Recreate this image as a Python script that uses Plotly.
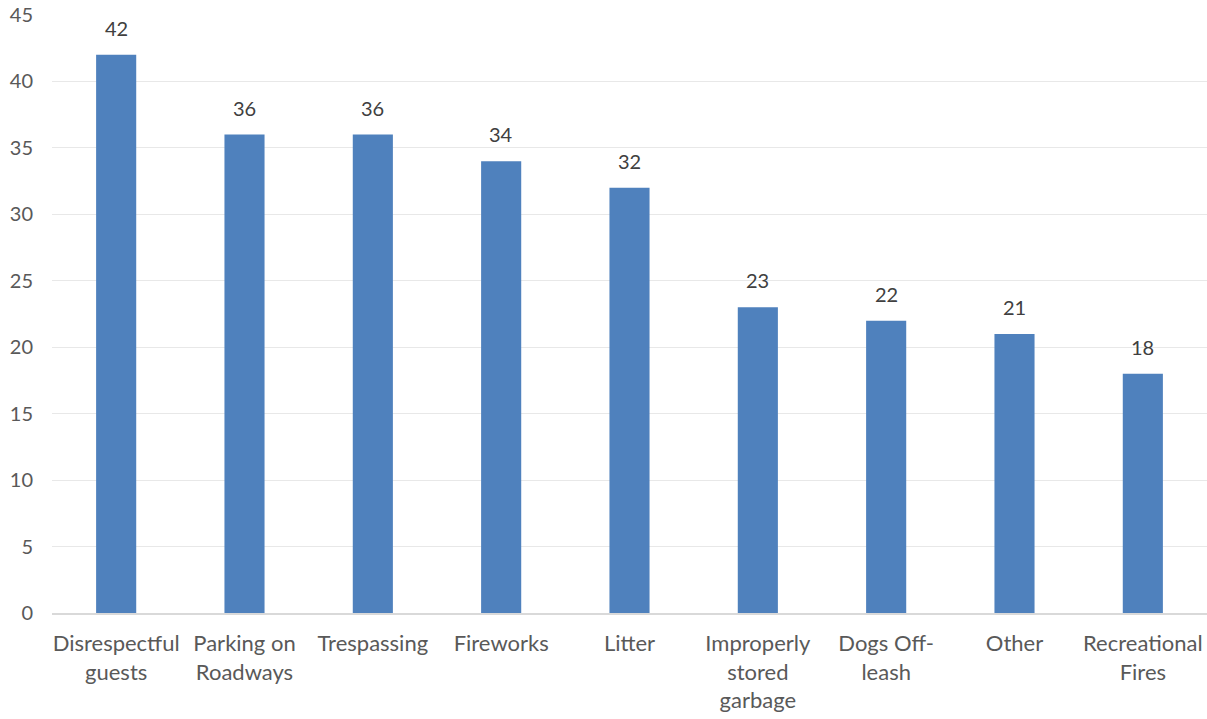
import plotly.graph_objects as go

categories = [
    "Disrespectful<br>guests",
    "Parking on<br>Roadways",
    "Trespassing",
    "Fireworks",
    "Litter",
    "Improperly<br>stored<br>garbage",
    "Dogs Off-<br>leash",
    "Other",
    "Recreational<br>Fires",
]
counts = [42, 36, 36, 34, 32, 23, 22, 21, 18]

text_color = "#595959"
font_family = "Lato, 'Liberation Sans', sans-serif"

fig = go.Figure(
    go.Bar(
        x=categories,
        y=counts,
        marker=dict(color="#4f81bd", line=dict(width=0)),
        cliponaxis=False,
    )
)

# value labels sitting above each bar
for cat, val in zip(categories, counts):
    fig.add_annotation(
        x=cat,
        y=val,
        text=str(val),
        showarrow=False,
        yanchor="bottom",
        yshift=13,
        font=dict(size=20, color="#404040", family=font_family),
    )

fig.update_layout(
    width=1207,
    height=719,
    margin=dict(l=52, r=0, t=15, b=106),
    paper_bgcolor="white",
    plot_bgcolor="white",
    bargap=0.6875,
    showlegend=False,
    font=dict(family=font_family, size=20, color=text_color),
)

fig.update_xaxes(
    showline=True,
    linecolor="#d9d9d9",
    linewidth=1.5,
    showgrid=False,
    ticks="",
    tickangle=0,
    ticklabelstandoff=10,
    tickfont=dict(size=22, color=text_color),
    automargin=False,
)

fig.update_yaxes(
    range=[0, 45],
    dtick=5,
    showgrid=True,
    gridcolor="#e8e8e8",
    gridwidth=1,
    zeroline=False,
    showline=False,
    ticks="",
    ticklabelstandoff=18,
    tickfont=dict(size=20, color=text_color),
    automargin=False,
)

fig.write_html("out.html")
